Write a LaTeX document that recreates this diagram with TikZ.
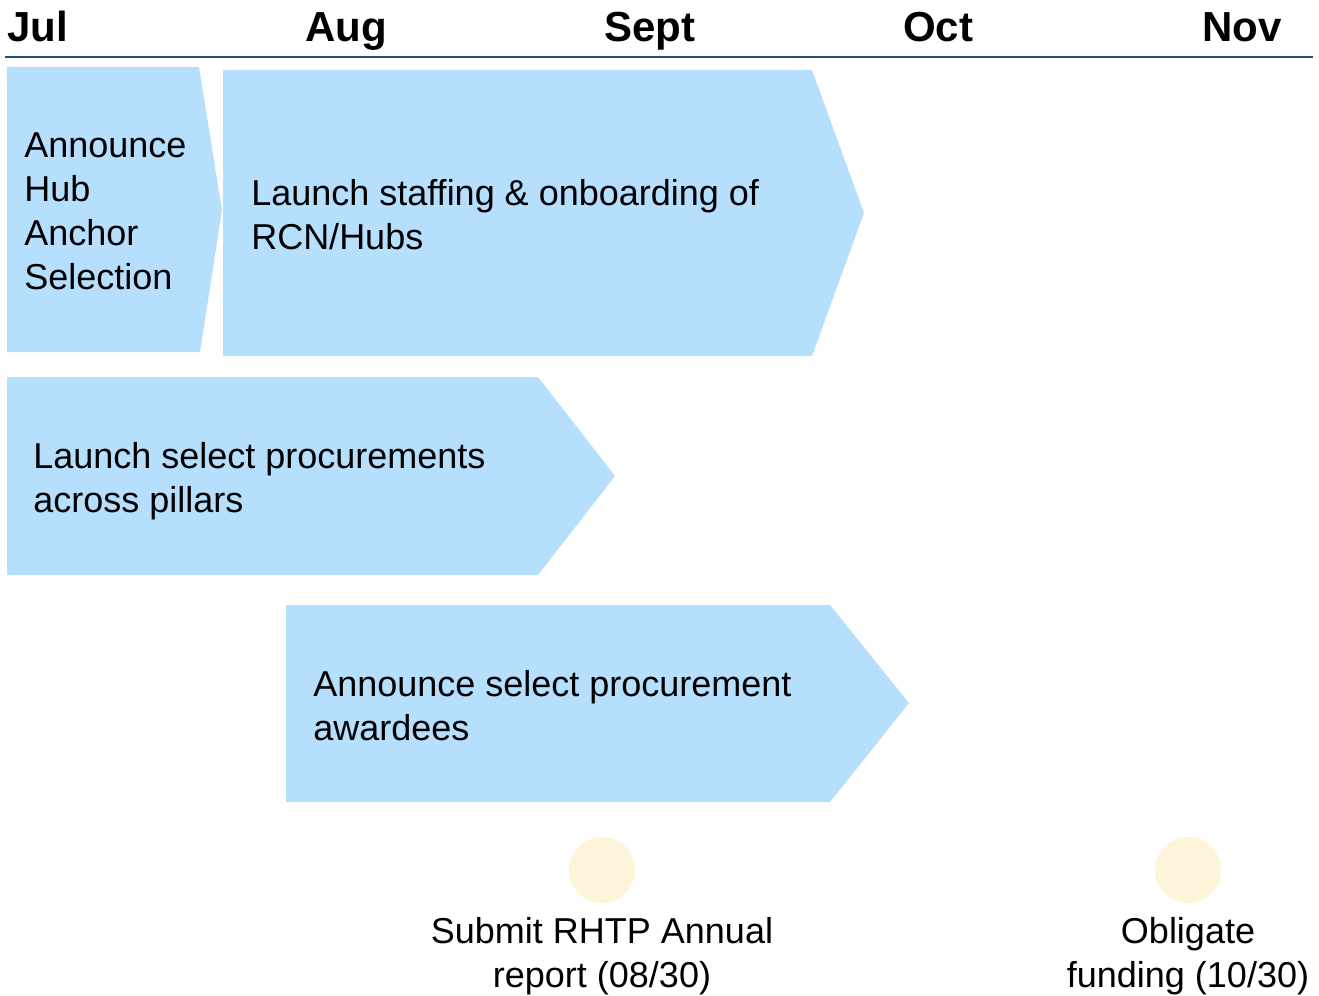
\documentclass[tikz,border=0pt]{standalone}
\usepackage{fontspec}
\setmainfont{Liberation Sans}
\definecolor{chev}{HTML}{B5DFFD}
\definecolor{dot}{HTML}{FDF4D9}
\definecolor{rule}{HTML}{1F4E79}
\begin{document}
\begin{tikzpicture}[x=0.75pt,y=-0.75pt,
  month/.style={font=\fontsize{31.5}{36}\selectfont\bfseries, inner sep=0pt, anchor=base west},
  label/.style={font=\fontsize{27}{33}\selectfont, inner sep=0pt, anchor=base west, align=left},
  clabel/.style={font=\fontsize{27}{33}\selectfont, inner sep=0pt, anchor=base, align=center}]
\useasboundingbox (0,0) rectangle (1319,995);
% header
\node[month] (jul) at (7,42) {Jul};
\node[month] (aug) at (305,42) {Aug};
\node[month] (sep) at (604,42) {Sept};
\node[month] (oct) at (903,42) {Oct};
\node[month] (nov) at (1202,42) {Nov};
\draw[rule, line width=1.2pt] (5,57) -- (1313,57);
% chevrons
\fill[chev] (7,67) -- (199,67) -- (222,210) -- (200,352) -- (7,352) -- cycle;
\fill[chev] (223,70) -- (812,70) -- (864,213) -- (812,356) -- (223,356) -- cycle;
\fill[chev] (7,377) -- (538,377) -- (615,476) -- (538,575) -- (7,575) -- cycle;
\fill[chev] (286,605) -- (830,605) -- (909,703) -- (830,802) -- (286,802) -- cycle;
% texts (anchor = baseline of last line)
\node[label] (t1) at (24,289) {Announce\\Hub\\Anchor\\Selection};
\node[label] (t2) at (251,249) {Launch staffing \& onboarding of\\RCN/Hubs};
\node[label] (t3) at (33,512) {Launch select procurements\\across pillars};
\node[label] (t4) at (313,740) {Announce select procurement\\awardees};
% milestones
\fill[dot] (602,870) circle (33);
\fill[dot] (1188,870) circle (33);
\node[clabel] (m1) at (602,987) {Submit RHTP Annual\\report (08/30)};
\node[clabel] (m2) at (1188,987) {Obligate\\funding (10/30)};
\end{tikzpicture}
\end{document}
